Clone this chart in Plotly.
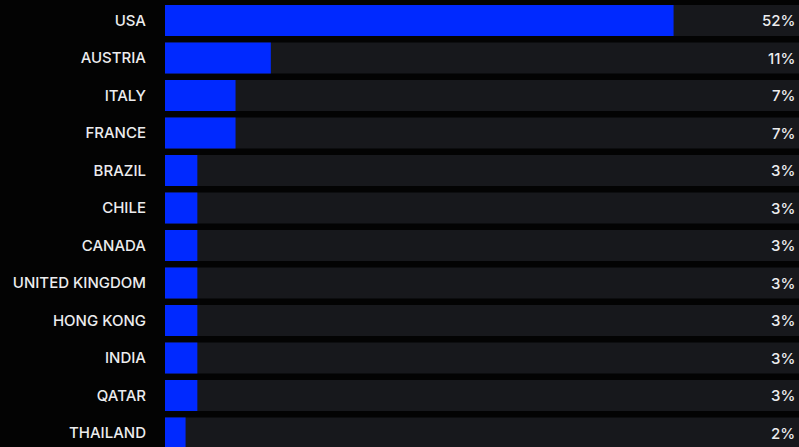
import plotly.graph_objects as go

countries = ["USA", "AUSTRIA", "ITALY", "FRANCE", "BRAZIL", "CHILE", "CANADA",
             "UNITED KINGDOM", "HONG KONG", "INDIA", "QATAR", "THAILAND"]
values = [51.9, 10.8, 7.2, 7.2, 3.3, 3.3, 3.3, 3.3, 3.3, 3.3, 3.3, 2.1]
labels = ["52%", "11%", "7%", "7%", "3%", "3%", "3%", "3%", "3%", "3%", "3%", "2%"]

X_MAX = 64.7
ypos = list(range(len(countries)))

BLUE = "#0029ff"
TRACK = "#17181c"
FONT = "Inter, 'Noto Sans', sans-serif"
W, H, L = 799, 447, 165

fig = go.Figure()
fig.add_trace(go.Bar(
    y=ypos, x=[X_MAX] * len(countries), orientation="h",
    marker=dict(color=TRACK, line=dict(width=0)), hoverinfo="skip",
    showlegend=False,
))
fig.add_trace(go.Bar(
    y=ypos, x=values, orientation="h",
    marker=dict(color=BLUE, line=dict(width=0)),
    showlegend=False,
))

for yv, lab in zip(ypos, labels):
    fig.add_annotation(
        x=1, xref="paper", y=yv, yref="y", text=lab, showarrow=False,
        xanchor="right", yanchor="middle", xshift=-2,
        font=dict(family=FONT, size=15, color="#ececee", weight=500),
    )

fig.update_layout(
    width=W, height=H,
    margin=dict(l=L, r=0, t=0, b=0),
    paper_bgcolor="#030303", plot_bgcolor="rgba(0,0,0,0)",
    barmode="overlay", bargap=0.17,
    font=dict(family=FONT, color="#ececee", size=15),
    xaxis=dict(range=[0, X_MAX], visible=False, fixedrange=True),
    yaxis=dict(
        range=[11.373, -0.547], tickvals=ypos, ticktext=countries,
        showgrid=False, zeroline=False, showline=False, ticks="",
        ticklabelstandoff=18,
        tickfont=dict(family=FONT, size=15, color="#ececee", weight=500),
        fixedrange=True,
    ),
)

fig.write_html("out.html")
